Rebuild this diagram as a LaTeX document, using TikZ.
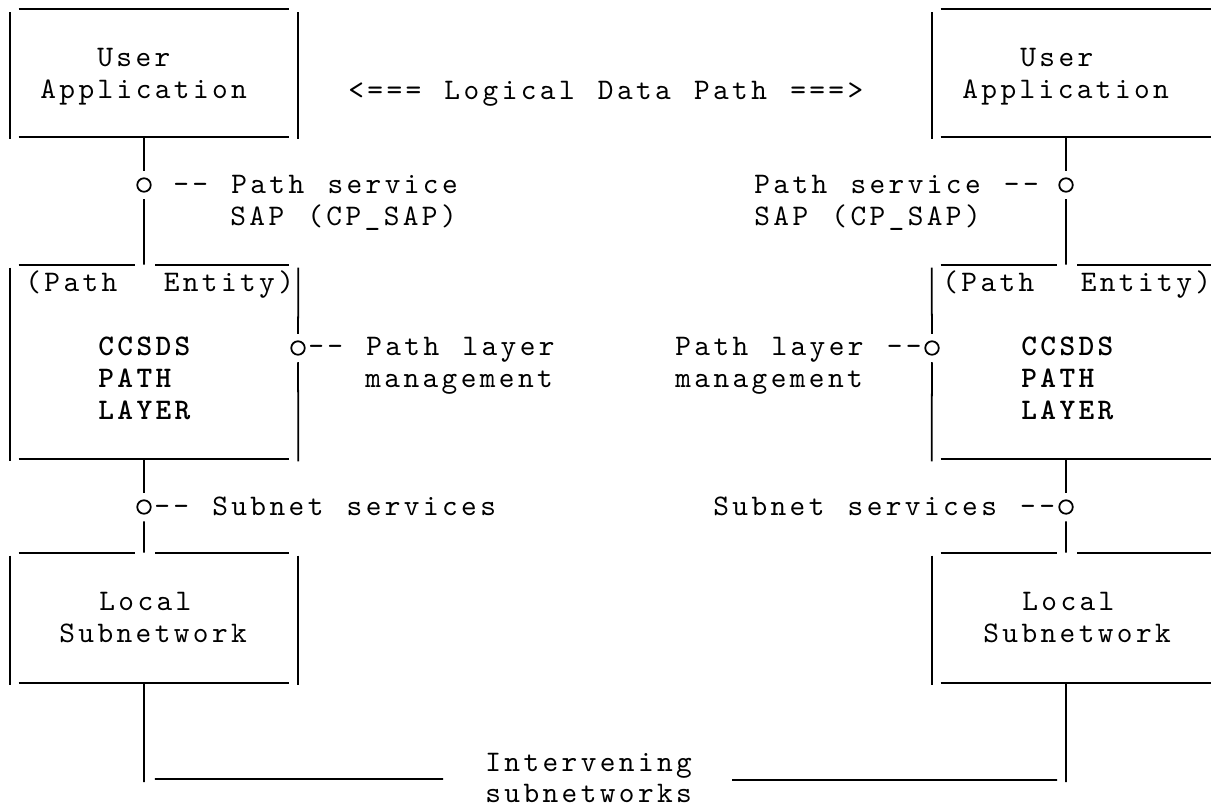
\documentclass[tikz,border=0pt]{standalone}
\usepackage{fontspec}
\newfontfamily\asciifont{lmmono10-regular.otf}[
  BoldFont=lmmonolt10-bold.otf, LetterSpace=11.4, WordSpace=1.217,
  Ligatures=TeXOff]
\newcommand\ascii{\asciifont\fontsize{17}{19}\selectfont}

\begin{document}
\begin{tikzpicture}[
        x=0.02cm, y=-0.02cm,
        font=\ascii,
        rule/.style={line width=1pt},
        frame/.style={inner sep=0pt, minimum width=5.76cm},
        sap/.style={circle, draw, line width=1pt, minimum size=0.27cm,
                    inner sep=0pt, outer sep=0.15cm},
        txt/.style={anchor=base west, inner sep=0pt},
        bold/.style={txt, font=\ascii\bfseries}]
    \useasboundingbox (0,0) rectangle (1211,808);
    \clip (0,0) rectangle (1211,808);

    % boxes
    \node[frame, minimum height=2.54cm] (appL) at (154,73) {};
    \node[frame, minimum height=2.54cm] (appR) at (1076,73) {};
    \node[frame, minimum height=3.88cm] (pthL) at (154,362) {};
    \node[frame, minimum height=3.88cm] (pthR) at (1076,362) {};
    \node[frame, minimum height=2.6cm] (subL) at (154,618) {};
    \node[frame, minimum height=2.6cm] (subR) at (1076,618) {};

    % access points
    \node[sap] (sapL) at (144,185) {};
    \node[sap] (sapR) at (1066,185) {};
    \node[sap] (mgtL) at (298,348) {};
    \node[sap] (mgtR) at (932,348) {};
    \node[sap] (snsL) at (144,507) {};
    \node[sap] (snsR) at (1066,507) {};
    \coordinate (botL) at (144,782);
    \coordinate (botR) at (1066,782);
    \coordinate (busL) at (443,779);
    \coordinate (busR) at (732,780);

    % frames
    \foreach \b in {appL,appR,pthL,pthR,subL,subR}
        \draw[rule] ([xshift=.18cm]\b.south west) -- ([xshift=-.18cm]\b.south east);
    \foreach \b in {appL,appR}
        \draw[rule] ([xshift=.18cm]\b.north west) -- ([xshift=-.18cm]\b.north east);
    \foreach \b in {pthL,pthR,subL,subR}{
        \draw[rule] ([xshift=.18cm]\b.north west) -- ([xshift=-.38cm]\b.north);
        \draw[rule] ([xshift=.02cm]\b.north) -- ([xshift=-.18cm]\b.north east);}
    \foreach \b in {appL,appR,subL,subR}{
        \draw[rule] ([yshift=-.06cm]\b.north west) -- ([yshift=-.04cm]\b.south west);
        \draw[rule] ([yshift=-.06cm]\b.north east) -- ([yshift=-.04cm]\b.south east);}
    \draw[rule] ([yshift=-.06cm]pthL.north west) -- ([yshift=-.04cm]pthL.south west);
    \draw[rule] ([yshift=-.06cm]pthL.north east) -- (mgtL) -- ([yshift=-.04cm]pthL.south east);
    \draw[rule] ([yshift=-.06cm]pthR.north west) -- (mgtR) -- ([yshift=-.04cm]pthR.south west);
    \draw[rule] ([yshift=-.06cm]pthR.north east) -- ([yshift=-.04cm]pthR.south east);

    % connectors
    \draw[rule] ([xshift=-.2cm]appL.south) -- (sapL) -- ([xshift=-.2cm]pthL.north);
    \draw[rule] ([xshift=-.2cm]pthL.south) -- (snsL) -- ([xshift=-.2cm]subL.north);
    \draw[rule] ([xshift=-.2cm]subL.south) -- (botL);
    \draw[rule] ([xshift=-.2cm]appR.south) -- (sapR) -- ([xshift=-.2cm]pthR.north);
    \draw[rule] ([xshift=-.2cm]pthR.south) -- (snsR) -- ([xshift=-.2cm]subR.north);
    \draw[rule] ([xshift=-.2cm]subR.south) -- (botR);
    \draw[rule] ([shift={(.22cm,.06cm)}]botL) -- (busL);
    \draw[rule] (busR) -- ([shift={(-.18cm,.04cm)}]botR);

    % texts
    \node[txt] (userL) at (97,66) {User};
    \node[txt] (applL) at (40,98) {Application};
    \node[txt] (userR) at (1020,66) {User};
    \node[txt] (applR) at (962,98) {Application};
    \node[txt] (logic) at (348,99) {<=== Logical Data Path ===>};
    \node[txt] (sapLa) at (173,193) {-- Path service};
    \node[txt] (sapLb) at (230,225) {SAP (CP\_SAP)};
    \node[txt] (sapRa) at (754,193) {Path service --};
    \node[txt] (sapRb) at (754,225) {SAP (CP\_SAP)};
    \node[txt] (entL) at (25,291) {(Path\ \ Entity)};
    \node[txt] (entR) at (942,291) {(Path\ \ Entity)};
    \foreach \t [count=\i] in {CCSDS,PATH,LAYER}{
        \node[bold] (layL\i) at (98,323+32*\i) {\t};
        \node[bold] (layR\i) at (1021,323+32*\i) {\t};}
    \node[txt] (mgtLa) at (308,355) {-- Path layer};
    \node[txt] (mgtLb) at (365,387) {management};
    \node[txt] (mgtRa) at (675,355) {Path layer --};
    \node[txt] (mgtRb) at (675,387) {management};
    \node[txt] (snsLa) at (154,515) {-- Subnet services};
    \node[txt] (snsRa) at (713,515) {Subnet services --};
    \node[txt] (locL) at (99,610) {Local};
    \node[txt] (netL) at (59,642) {Subnetwork};
    \node[txt] (locR) at (1022,610) {Local};
    \node[txt] (netR) at (983,642) {Subnetwork};
    \node[txt] (inter) at (485,771) {Intervening};
    \node[txt] (subnets) at (485,802) {subnetworks};
\end{tikzpicture}
\end{document}
